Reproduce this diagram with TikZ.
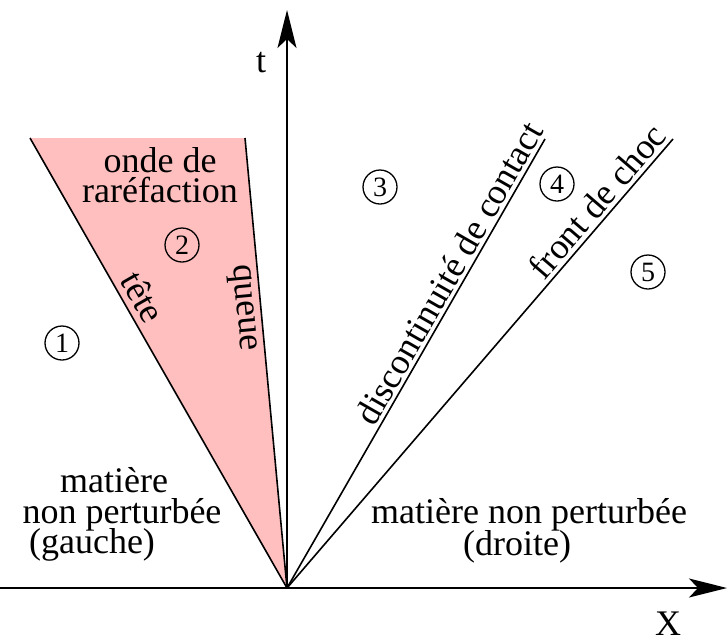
\documentclass[tikz,border=0pt]{standalone}
\usepackage{fontspec}
\setmainfont{Liberation Serif}
\newfontfamily\tnr{Liberation Serif}
\usetikzlibrary{arrows.meta}
\definecolor{rarepink}{RGB}{255,191,191}
\begin{document}
\begin{tikzpicture}[x=1pt,y=-1pt,
  lbl/.style={font=\tnr\fontsize{36}{31}\selectfont, inner sep=0pt},
  num/.style={circle, draw, line width=1.3pt, minimum size=34pt, inner sep=0pt, font=\tnr\fontsize{28}{28}\selectfont},
  wave/.style={line width=1.6pt},
  axis/.style={line width=1.6pt, -{Stealth[length=38pt, width=19pt, inset=9pt]}}]
\useasboundingbox (0,0) rectangle (727,643);
% key points
\coordinate (O) at (287,588);
\coordinate (A) at (30,138);
\coordinate (B) at (245,138);
\coordinate (C) at (545,139);
\coordinate (S) at (673,139);
\coordinate (xl) at (0,588);
\coordinate (xr) at (727,588);
\coordinate (ty) at (287,10);
% rarefaction fan
\fill[rarepink] (A) -- (B) -- (O) -- cycle;
\draw[wave] (A) -- (O);
\draw[wave] (B) -- (O);
\draw[wave] (O) -- (C);
\draw[wave] (O) -- (S);
% axes
\draw[axis] (xl) -- (xr);
\draw[axis] (O) -- (ty);
\node[lbl, anchor=base] (tl) at (261,72) {t};
\node[lbl, anchor=base] (xlab) at (668,635) {X};
% labels
\node[lbl, anchor=base] (o1) at (160,172) {onde de};
\node[lbl, anchor=base] (o2) at (160,202) {raréfaction};
\node[lbl, rotate=-60.3] (tete) at (143,297) {tête};
\node[lbl, rotate=-84.7] (queue) at (242,308) {queue};
\node[lbl, rotate=60.2] (dc) at (449,273) {discontinuité de contact};
\node[lbl, rotate=49.3] (fc) at (597,201) {front de choc};
\node[lbl, anchor=base] (g1) at (114,492) {matière};
\node[lbl, anchor=base] (g2) at (122,523) {non perturbée};
\node[lbl, anchor=base] (g3) at (92,553) {(gauche)};
\node[lbl, anchor=base] (d1) at (529,523) {matière non perturbée};
\node[lbl, anchor=base] (d2) at (517,555) {(droite)};
% region numbers
\node[num] (n1) at (62,343) {1};
\node[num] (n2) at (182,245) {2};
\node[num] (n3) at (380,187) {3};
\node[num] (n4) at (557,184) {4};
\node[num] (n5) at (648,272) {5};
\end{tikzpicture}
\end{document}
